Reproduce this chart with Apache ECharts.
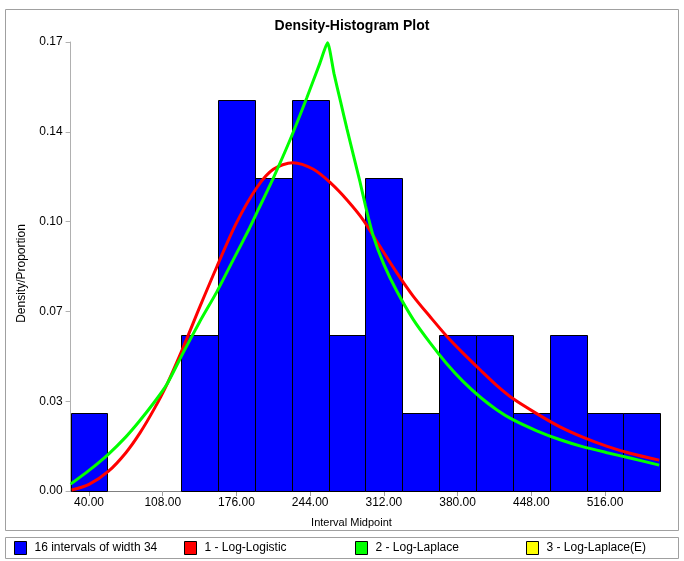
<!DOCTYPE html>
<html><head><meta charset="utf-8">
<script src="https://cdn.jsdelivr.net/npm/echarts@6/dist/echarts.min.js"></script>
<style>html,body{margin:0;padding:0;background:#fff}#c{width:684px;height:561px}</style>
</head><body><div id="c"></div>
<script>
const binWidth = 34;
const binMids = [40, 74, 108, 142, 176, 210, 244, 278, 312, 346, 380, 414, 448, 482, 516, 550];
const binDensity = [0.0296, 0, 0, 0.0592, 0.148, 0.1184, 0.148, 0.0592, 0.1184, 0.0296, 0.0592, 0.0592, 0.0296, 0.0592, 0.0296, 0.0296];
const xTickValues = [40, 108, 176, 244, 312, 380, 448, 516];

const logLogisticX = [24, 40, 58, 74, 87, 100, 112, 127, 142, 158, 176, 195, 210, 228, 247, 264, 278, 293, 308, 324, 339, 355, 370, 385, 401, 416, 431, 453, 474, 496, 518, 539, 566];
const logLogisticY = [0.0004, 0.0025, 0.0075, 0.0145, 0.022, 0.031, 0.0405, 0.0545, 0.0695, 0.085, 0.1015, 0.115, 0.1218, 0.1243, 0.1218, 0.1162, 0.1102, 0.1026, 0.0928, 0.0826, 0.0738, 0.0658, 0.0586, 0.0522, 0.0458, 0.0400, 0.0350, 0.0293, 0.0244, 0.0203, 0.0169, 0.0143, 0.0117];

const logLaplaceX = [23, 40, 58, 74, 86, 100, 112, 127, 142, 158, 173, 188, 196, 210, 225, 241, 253, 260, 266, 272, 278, 284, 290, 295, 302, 312, 324, 339, 355, 370, 385, 401, 416, 431, 453, 474, 496, 518, 539, 566];
const logLaplaceY = [0.0026, 0.0078, 0.014, 0.0205, 0.0262, 0.0335, 0.0405, 0.0525, 0.064, 0.0755, 0.0875, 0.0995, 0.1064, 0.1185, 0.1325, 0.149, 0.162, 0.1697, 0.158, 0.1475, 0.137, 0.127, 0.117, 0.108, 0.0968, 0.0858, 0.0756, 0.065, 0.0559, 0.0482, 0.0415, 0.0355, 0.0308, 0.0270, 0.0228, 0.0195, 0.0167, 0.0145, 0.0125, 0.0098];

const legendNames = ['16 intervals of width 34', '1 - Log-Logistic', '2 - Log-Laplace', '3 - Log-Laplace(E)'];
const legendColors = ['#0000ff', '#ff0000', '#00ff00', '#ffff00'];
const legendLefts = [14, 184, 355, 526];

const FONT = 'Liberation Sans, Arial, sans-serif';
const chart = echarts.init(document.getElementById('c'));

const zip = (xs, ys) => xs.map((x, i) => [x, ys[i]]);

chart.setOption({
  animation: false,
  backgroundColor: '#fff',
  title: {
    text: 'Density-Histogram Plot',
    left: 347, top: 14, textAlign: 'center',
    textStyle: { fontFamily: FONT, fontSize: 14, fontWeight: 'bold', color: '#000' }
  },
  graphic: [
    { type: 'rect', shape: { x: 5.5, y: 9.5, width: 673, height: 521 }, style: { fill: 'none', stroke: '#a0a0a0', lineWidth: 1 }, silent: true, z: -10 },
    { type: 'rect', shape: { x: 5.5, y: 537.5, width: 673, height: 21 }, style: { fill: 'none', stroke: '#a0a0a0', lineWidth: 1 }, silent: true, z: -10 }
  ],
  legend: legendNames.map((n, i) => ({
    left: legendLefts[i], top: 541, icon: 'rect', itemWidth: 12, itemHeight: 13,
    selectedMode: false, padding: 0,
    textStyle: { fontFamily: FONT, fontSize: 12, color: '#000', padding: [0, 0, 0, 3] },
    data: [{ name: n, itemStyle: { color: legendColors[i], borderColor: '#000', borderWidth: 1 } }]
  })),
  grid: { left: 70.6, right: 23.7, top: 42, bottom: 70, containLabel: false },
  xAxis: {
    type: 'value', min: 23, max: 567,
    name: 'Interval Midpoint', nameLocation: 'middle', nameGap: 26,
    nameTextStyle: { fontFamily: FONT, fontSize: 11, color: '#000', padding: [0, 28, 0, 0] },
    axisLine: { show: true, lineStyle: { color: '#808080', width: 1 } },
    axisTick: { show: true, length: 5, lineStyle: { color: '#a0a0a0' }, customValues: xTickValues },
    axisLabel: { customValues: xTickValues, margin: 6, fontFamily: FONT, fontSize: 12, color: '#000', formatter: v => v.toFixed(2) },
    splitLine: { show: false }
  },
  yAxis: {
    type: 'value', min: 0, max: 0.17, interval: 0.034,
    name: 'Density/Proportion', nameLocation: 'middle', nameGap: 43, nameRotate: 90,
    nameTextStyle: { fontFamily: FONT, fontSize: 12, color: '#000', padding: [0, 14, 0, 0] },
    axisLine: { show: true, lineStyle: { color: '#b0b0b0', width: 1 } },
    axisTick: { show: true, length: 5, lineStyle: { color: '#b0b0b0' } },
    axisLabel: { margin: 8, fontFamily: FONT, fontSize: 12, color: '#000', formatter: v => v.toFixed(2) },
    splitLine: { show: false }
  },
  series: [
    {
      name: legendNames[0], type: 'custom',
      data: zip(binMids, binDensity),
      encode: { x: 0, y: 1 },
      itemStyle: { color: '#0000ff' },
      z: 2,
      renderItem: (params, api) => {
        const mid = api.value(0), d = api.value(1);
        if (!(d > 0)) return null;
        const p0 = api.coord([mid - binWidth / 2, d]);
        const p1 = api.coord([mid + binWidth / 2, 0]);
        return {
          type: 'rect',
          shape: { x: Math.round(p0[0]) + 0.5, y: Math.round(p0[1]) + 0.5, width: Math.round(p1[0]) - Math.round(p0[0]), height: Math.round(p1[1]) - Math.round(p0[1]) },
          style: { fill: '#0000ff', stroke: '#000', lineWidth: 1 }
        };
      }
    },
    {
      name: legendNames[3], type: 'line', data: [], showSymbol: false,
      lineStyle: { color: '#ffff00', width: 3 }, itemStyle: { color: '#ffff00' }, z: 3
    },
    {
      name: legendNames[1], type: 'line', data: zip(logLogisticX, logLogisticY),
      showSymbol: false, smooth: 0.3,
      lineStyle: { color: '#ff0000', width: 3 }, itemStyle: { color: '#ff0000' }, z: 4
    },
    {
      name: legendNames[2], type: 'line', data: zip(logLaplaceX, logLaplaceY),
      showSymbol: false, smooth: 0.2,
      lineStyle: { color: '#00ff00', width: 3 }, itemStyle: { color: '#00ff00' }, z: 5
    }
  ]
});
</script></body></html>
